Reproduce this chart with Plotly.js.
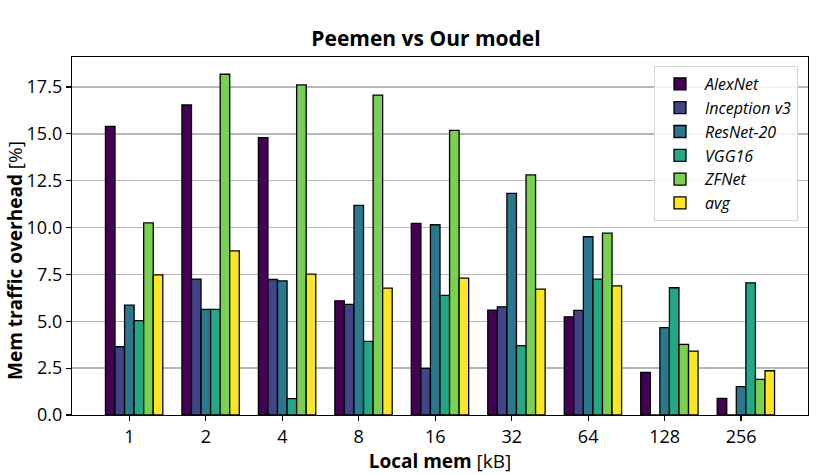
<!DOCTYPE html>
<html>
<head>
<meta charset="utf-8">
<script src="https://cdn.plot.ly/plotly-3.0.1.min.js"></script>
<style>html,body{margin:0;padding:0;background:#fff;}#chart{width:822px;height:475px;}</style>
</head>
<body>
<div id="chart"></div>
<script>
const categories = ['1', '2', '4', '8', '16', '32', '64', '128', '256'];
const seriesNames = ['AlexNet', 'Inception v3', 'ResNet-20', 'VGG16', 'ZFNet', 'avg'];
const alexnet   = [15.40, 16.54, 14.80, 6.09, 10.22, 5.60, 5.24, 2.27, 0.89];
const inception = [3.64, 7.25, 7.23, 5.90, 2.49, 5.77, 5.58, 0, 0];
const resnet    = [5.86, 5.63, 7.16, 11.18, 10.15, 11.82, 9.51, 4.66, 1.51];
const vgg16     = [5.03, 5.63, 0.87, 3.93, 6.38, 3.70, 7.25, 6.79, 7.05];
const zfnet     = [10.25, 18.18, 17.61, 17.07, 15.18, 12.81, 9.70, 3.77, 1.90];
const avg       = [7.48, 8.76, 7.52, 6.77, 7.30, 6.72, 6.89, 3.41, 2.36];

const seriesValues = [alexnet, inception, resnet, vgg16, zfnet, avg];
const colors = ['#440154', '#414487', '#2a788e', '#22a884', '#7ad151', '#fde725'];
const barW = 0.125;
const FONT = 'Open Sans, Noto Sans, sans-serif';

const traces = seriesValues.map((vals, k) => ({
  type: 'bar',
  name: seriesNames[k],
  x: categories,
  y: vals,
  width: barW,
  offset: (k - 2.5) * barW,
  marker: {color: colors[k], line: {color: '#000', width: 1.3}},
  hoverinfo: 'skip'
}));

const layout = {
  width: 822, height: 475,
  margin: {l: 72, r: 14, t: 57, b: 60},
  paper_bgcolor: '#fff', plot_bgcolor: '#fff',
  barmode: 'overlay',
  font: {family: FONT, color: '#000', size: 18},
  title: {text: '<b>Peemen vs Our model</b>', x: 426 / 822, xanchor: 'center', y: 1 - 39 / 475, yanchor: 'middle',
          font: {family: FONT, size: 21, color: '#000'}},
  xaxis: {
    type: 'category', range: [-0.75, 8.875],
    showline: true, mirror: true, linecolor: '#000', linewidth: 1.2,
    ticks: 'outside', ticklen: 5, tickwidth: 1.2, tickcolor: '#000',
    showgrid: false, zeroline: false,
    tickfont: {family: FONT, size: 18, color: '#000'},
    title: {text: '<b>Local mem</b> [kB]', font: {family: FONT, size: 19, color: '#000'}, standoff: 2}
  },
  yaxis: {
    range: [0, 19.1],
    tickvals: [0, 2.5, 5, 7.5, 10, 12.5, 15, 17.5],
    ticktext: ['0.0', '2.5', '5.0', '7.5', '10.0', '12.5', '15.0', '17.5'],
    showline: true, mirror: true, linecolor: '#000', linewidth: 1.2,
    ticks: 'outside', ticklen: 5, tickwidth: 1.2, tickcolor: '#000',
    showgrid: true, gridcolor: '#b8b8b8', gridwidth: 1.5, zeroline: false,
    tickfont: {family: FONT, size: 18, color: '#000'}
  },
  annotations: [{
    text: '<b>Mem traffic overhead</b> [%]', textangle: -90,
    xref: 'paper', yref: 'paper', x: (15 - 72) / 736, y: (415 - 261) / 358,
    xanchor: 'center', yanchor: 'middle', showarrow: false,
    font: {family: FONT, size: 19, color: '#000'}
  }],
  showlegend: true,
  legend: {
    x: (798 - 72) / 736, xanchor: 'right', y: (415 - 66) / 358, yanchor: 'top',
    bgcolor: 'rgba(255,255,255,0.85)', bordercolor: '#d6d6d6', borderwidth: 1,
    font: {family: FONT, size: 16, color: '#000', style: 'italic'},
    itemwidth: 40
  }
};

Plotly.newPlot('chart', traces, layout, {staticPlot: true, displayModeBar: false});
</script>
</body>
</html>
